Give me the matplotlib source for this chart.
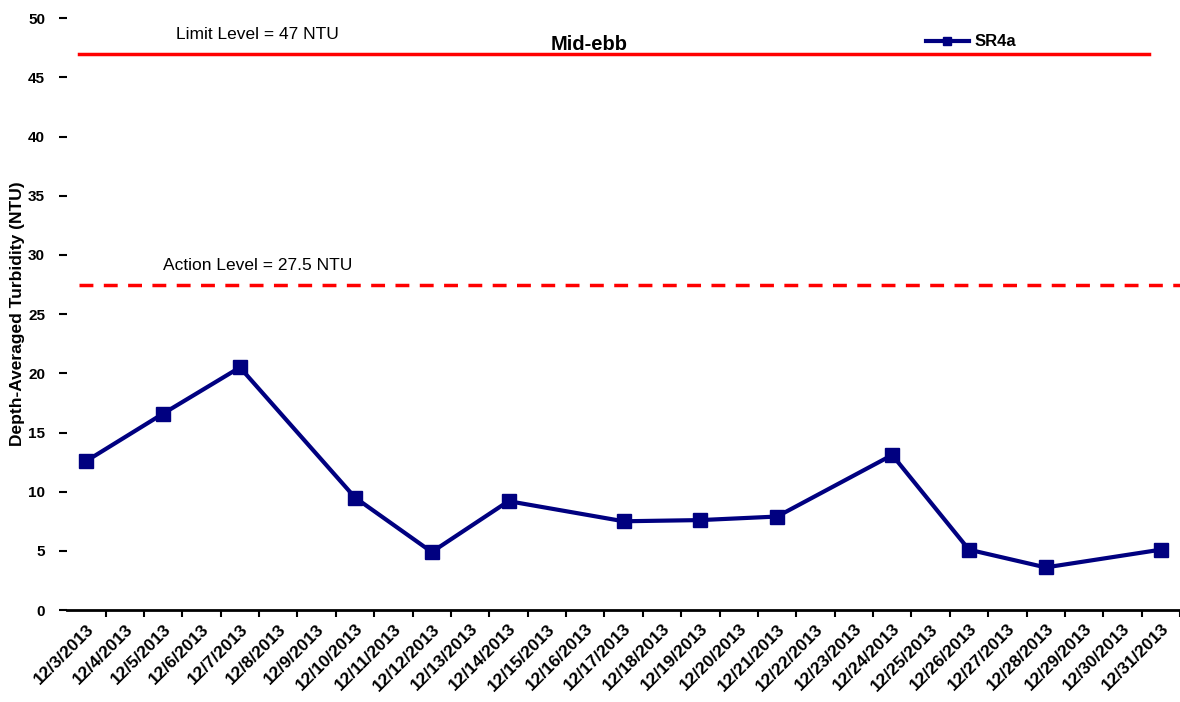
import matplotlib.pyplot as plt
import numpy as np

plt.rcParams['font.family'] = ['Liberation Sans', 'DejaVu Sans']

dates = ['12/%d/2013' % d for d in range(3, 32)]
sample_dates = ['12/3/2013', '12/5/2013', '12/7/2013', '12/10/2013', '12/12/2013',
                '12/14/2013', '12/17/2013', '12/19/2013', '12/21/2013', '12/24/2013',
                '12/26/2013', '12/28/2013', '12/31/2013']
sr4a = [12.6, 16.6, 20.5, 9.5, 4.9, 9.2, 7.5, 7.6, 7.9, 13.1, 5.1, 3.6, 5.1]
limit_level = 47
action_level = 27.5

fig = plt.figure(figsize=(11.8, 7.02), dpi=100)
ax = fig.add_axes([0.057, 0.131, 0.943, 0.843])

x = [dates.index(d) for d in sample_dates]
ax.plot(x, sr4a, color='#000080', lw=3, marker='s', markersize=10, label='SR4a')

ax.plot([-0.2, 27.7], [limit_level, limit_level], color='red', lw=2.5)
ax.plot([-0.2, 28.5], [action_level, action_level], color='red', lw=2.5,
        ls=(0, (4, 3)))
ax.text(4.45, 48.6, 'Limit Level = 47 NTU', fontsize=12.5, ha='center', va='center')
ax.text(4.45, 29.1, 'Action Level = 27.5 NTU', fontsize=12.5, ha='center', va='center')
ax.text(13.1, 47.8, 'Mid-ebb', fontsize=14.5, fontweight='bold', ha='center', va='center')

ax.set_xlim(-0.5, 28.5)
ax.set_ylim(0, 50)
ax.set_yticks(np.arange(0, 51, 5))
ax.set_xticks(range(len(dates)))
ax.set_xticklabels(dates, rotation=45, ha='right', rotation_mode='anchor',
                   fontsize=12.5, fontweight='bold')
ax.set_xticks(np.arange(0.5, 28.6, 1), minor=True)
ax.tick_params(axis='x', which='major', length=0, pad=8)
ax.tick_params(axis='x', which='minor', length=5, width=1.5, direction='out')
ax.tick_params(axis='y', length=6, width=1.5, direction='out', pad=10)
for lab in ax.get_yticklabels():
    lab.set_fontweight('bold')
    lab.set_fontsize(11)

for side in ['top', 'right', 'left']:
    ax.spines[side].set_visible(False)
ax.spines['bottom'].set_linewidth(2)

ax.set_ylabel('Depth-Averaged Turbidity (NTU)', fontsize=12.5, fontweight='bold',
              labelpad=2)

leg = ax.legend(loc='center left', bbox_to_anchor=(0.758, 0.96), frameon=False,
                prop={'weight': 'bold', 'size': 12}, handlelength=2.6,
                handletextpad=0.3, markerscale=0.6)

fig.savefig('out.png', dpi=100)
